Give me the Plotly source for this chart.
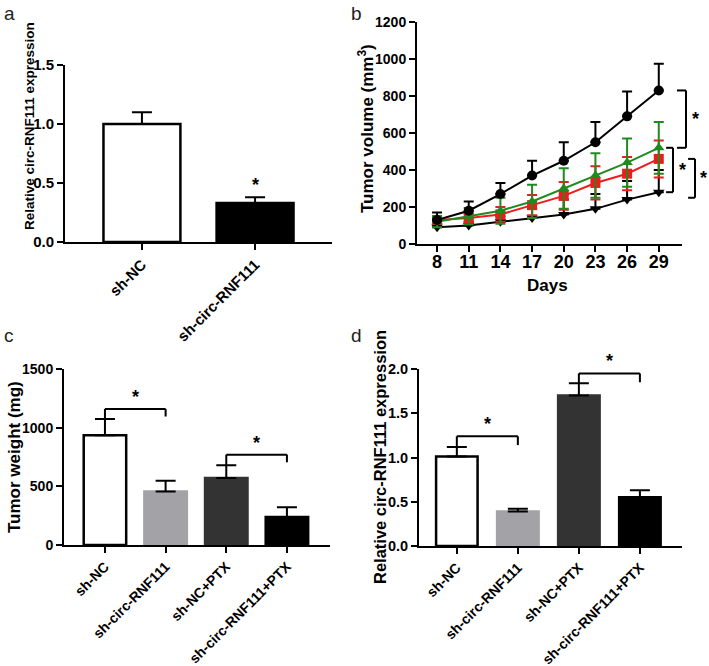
import plotly.graph_objects as go

W, H = 709, 666
FONT = "Liberation Sans"

# panel a
a_groups = ["sh-NC", "sh-circ-RNF111"]
a_vals = [1.0, 0.33]
a_err = [0.10, 0.05]

# panel b
days = [8, 11, 14, 17, 20, 23, 26, 29]
b_nc = [130, 180, 270, 370, 450, 550, 690, 830]
b_nc_err = [40, 50, 60, 80, 100, 110, 135, 145]
b_green = [120, 150, 180, 230, 300, 370, 440, 520]
b_green_err = [30, 45, 70, 90, 110, 120, 130, 140]
b_red = [130, 140, 160, 210, 260, 330, 380, 460]
b_red_err = [20, 25, 40, 55, 75, 90, 90, 100]
b_low = [90, 100, 120, 140, 160, 190, 240, 280]
b_low_err = [20, 20, 30, 50, 80, 80, 100, 120]

# panels c, d
cd_groups = ["sh-NC", "sh-circ-RNF111", "sh-NC+PTX", "sh-circ-RNF111+PTX"]
c_vals = [935, 457, 571, 239]
c_err = [139, 91, 108, 82]
d_vals = [1.01, 0.39, 1.70, 0.55]
d_err = [0.11, 0.03, 0.14, 0.08]
c_brackets = [(0, 1, 1160), (2, 3, 770)]
d_brackets = [(0, 1, 1.24), (2, 3, 1.95)]

bar_fill = ["white", "#a3a3a7", "#333333", "#000000"]
bar_line = ["black", "#a3a3a7", "#333333", "#000000"]


def px(x0, x1, y0, y1):
    return [x0 / W, x1 / W], [1 - y1 / H, 1 - y0 / H]


def errbar(arr, width=10, up_only=True):
    d = dict(type="data", array=arr, color="black", thickness=2, width=width, visible=True)
    if up_only:
        d.update(symmetric=False, arrayminus=[0] * len(arr))
    return d


fig = go.Figure()

fig.add_trace(go.Bar(
    x=a_groups, y=a_vals, width=0.68, xaxis="x", yaxis="y",
    marker=dict(color=["white", "black"], line=dict(color="black", width=2.5)),
    error_y=errbar(a_err), showlegend=False,
))

series = [
    (b_low, b_low_err, "black", "triangle-down", True),
    (b_red, b_red_err, "#ee1c1c", "square", False),
    (b_green, b_green_err, "#1f8a1f", "triangle-up", False),
    (b_nc, b_nc_err, "black", "circle", True),
]
for ys, es, col, sym, up in series:
    eb = errbar(es, width=5, up_only=up)
    eb["color"] = col
    fig.add_trace(go.Scatter(
        x=days, y=ys, xaxis="x2", yaxis="y2", mode="lines+markers",
        line=dict(color=col, width=2), marker=dict(color=col, symbol=sym, size=10),
        error_y=eb, showlegend=False,
    ))

fig.add_trace(go.Bar(
    x=cd_groups, y=c_vals, width=0.7, xaxis="x3", yaxis="y3",
    marker=dict(color=bar_fill, line=dict(color=bar_line, width=2.5)),
    error_y=errbar(c_err), showlegend=False,
))
fig.add_trace(go.Bar(
    x=cd_groups, y=d_vals, width=0.68, xaxis="x4", yaxis="y4",
    marker=dict(color=bar_fill, line=dict(color=bar_line, width=2.5)),
    error_y=errbar(d_err), showlegend=False,
))


def ax(domain, anchor, size, **kw):
    d = dict(domain=domain, anchor=anchor, showline=True, linecolor="black", linewidth=2,
             ticks="outside", ticklen=6, tickwidth=2, tickcolor="black", showgrid=False,
             zeroline=False, automargin=False,
             tickfont=dict(family=FONT, size=size, color="black", weight="bold"))
    d.update(kw)
    return d


xa, ya = px(65, 332, 65, 242)
xb, yb = px(417, 682, 22, 244)
xc, yc = px(64, 330, 369, 545)
xd, yd = px(419, 682, 369, 546)

layout = dict(
    width=W, height=H, margin=dict(l=0, r=0, t=0, b=0, autoexpand=False),
    paper_bgcolor="white", plot_bgcolor="white",
    xaxis=ax(xa, "y", 15, range=[-0.68, 1.68], tickangle=-45),
    yaxis=ax(ya, "x", 15, range=[0, 1.5], dtick=0.5, tickformat=".1f"),
    xaxis2=ax(xb, "y2", 18, range=[6.1, 31.2], tickvals=days, ticklabelstandoff=-6),
    yaxis2=ax(yb, "x2", 14, range=[0, 1200], dtick=200),
    xaxis3=ax(xc, "y3", 14, range=[-0.675, 3.71], tickangle=-45),
    yaxis3=ax(yc, "x3", 14, range=[0, 1500], dtick=500),
    xaxis4=ax(xd, "y4", 14, range=[-0.62, 3.69], tickangle=-45),
    yaxis4=ax(yd, "x4", 14.5, range=[0, 2.0], dtick=0.5, tickformat=".1f"),
)
fig.update_layout(**layout)

ann = []
shapes = []


def label(text, x, y, size, angle=0):
    ann.append(dict(text=text, x=x / W, y=1 - y / H, xref="paper", yref="paper",
                    showarrow=False, textangle=angle, xanchor="center", yanchor="middle",
                    font=dict(family=FONT, size=size, color="black", weight="bold")))


for t, x, y in [("a", 9, 14), ("b", 356, 14), ("c", 9, 336), ("d", 356, 336)]:
    ann.append(dict(text=t, x=x / W, y=1 - y / H, xref="paper", yref="paper", showarrow=False,
                    xanchor="center", yanchor="middle",
                    font=dict(family=FONT, size=19, color="#222")))

label("Relative circ-RNF111 expression", 29, 126, 13.5, -90)
label("Tumor volume (mm<sup>3</sup>)", 366, 129, 17, -90)
label("Tumor weight (mg)", 14, 457, 17, -90)
label("Relative circ-RNF111 expression", 380, 457, 16.5, -90)
label("Days", 547, 285, 17)


def star(x, y, xr, yr):
    ann.append(dict(text="*", x=x, y=y, xref=xr, yref=yr, showarrow=False, yanchor="bottom",
                    font=dict(family=FONT, size=18, color="black", weight="bold")))


def line(x0, y0, x1, y1, xr, yr):
    shapes.append(dict(type="line", x0=x0, y0=y0, x1=x1, y1=y1, xref=xr, yref=yr,
                       line=dict(color="black", width=2)))


# panel a star
star(1, a_vals[1] + a_err[1], "x", "y")

# panel b brackets (outside plot to the right)
b_br = [
    (b_nc[-1], b_green[-1], 0.981, 1.015, 1.05),
    (b_green[-1], b_low[-1], 0.94, 0.966, 1.002),
    (b_red[-1], b_low[-1] - 30, 1.023, 1.049, 1.08),
]
for top, bot, xin, xout, xs in b_br:
    line(xin, top, xout, top, "x2 domain", "y2")
    line(xout, top, xout, bot, "x2 domain", "y2")
    line(xin, bot, xout, bot, "x2 domain", "y2")
    ann.append(dict(text="*", x=xs, y=(top + bot) / 2, xref="x2 domain", yref="y2",
                    showarrow=False, xanchor="center", yanchor="middle",
                    font=dict(family=FONT, size=18, color="black", weight="bold")))

# panels c, d brackets
for brs, vals, errs, drop, xr, yr in [(c_brackets, c_vals, c_err, 65, "x3", "y3"),
                                      (d_brackets, d_vals, d_err, 0.1, "x4", "y4")]:
    for i0, i1, yb_ in brs:
        line(i0, yb_, i1, yb_, xr, yr)
        line(i0, yb_, i0, vals[i0] + errs[i0], xr, yr)
        line(i1, yb_, i1, yb_ - drop, xr, yr)
        star((i0 + i1) / 2, yb_, xr, yr)

fig.update_layout(annotations=ann, shapes=shapes)
fig.write_html("out.html", config={"displayModeBar": False},
               post_script="document.body.style.margin='0px';document.body.style.overflow='hidden';")
